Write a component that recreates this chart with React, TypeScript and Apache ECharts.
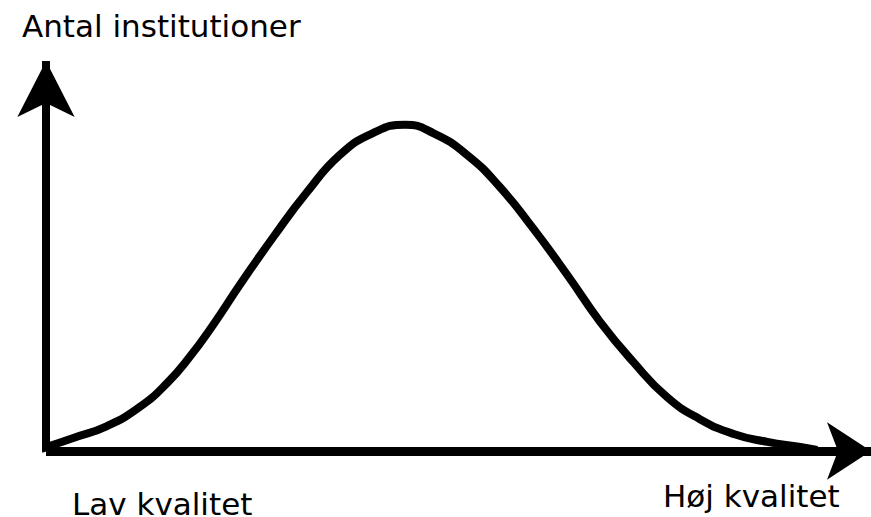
import React, { useEffect, useRef } from "react";
import * as echarts from "echarts";

// Conceptual distribution: quality (low -> high) vs. number of institutions
const qualityX = [-0.6, 3.4, 7.6, 11.7, 15.1, 17.9, 20.8, 24.2, 28.3, 32.5, 36.6, 40.7, 44.7, 48.2, 52.4, 56.5, 60.6, 64.9, 69.0, 73.1, 77.3, 81.4, 85.6, 89.8, 93.9, 96.0];
const institutionCount = [0.6, 3.6, 6.9, 12.2, 18.8, 26.0, 34.8, 46.1, 59.1, 71.5, 81.8, 87.8, 90.1, 87.8, 81.8, 72.9, 61.6, 48.6, 35.6, 24.6, 14.9, 8.8, 4.7, 2.5, 1.1, 0.3];

const yTitle = "Antal institutioner";
const lowLabel = "Lav kvalitet";
const highLabel = "Høj kvalitet";

const FONT = "'DejaVu Sans', Verdana, sans-serif";

export default function App() {
  const ref = useRef<HTMLDivElement>(null);

  useEffect(() => {
    if (!ref.current) return;
    const chart = echarts.init(ref.current, undefined, { renderer: "svg" });
    const data = qualityX.map((x, i) => [x, institutionCount[i]]);
    chart.setOption({
      animation: false,
      backgroundColor: "#ffffff",
      grid: { left: 46, right: 0, top: 61, bottom: 66 },
      xAxis: {
        type: "value",
        min: 0,
        max: 102.7,
        axisLine: {
          show: true,
          symbol: ["none", "arrow"],
          symbolSize: [43, 44],
          lineStyle: { color: "#000", width: 9, cap: "butt" },
        },
        axisTick: { show: false },
        axisLabel: { show: false },
        splitLine: { show: false },
      },
      yAxis: {
        type: "value",
        min: 0,
        max: 107.7,
        axisLine: {
          show: true,
          symbol: ["none", "arrow"],
          symbolSize: [43, 56],
          lineStyle: { color: "#000", width: 8, cap: "butt" },
        },
        axisTick: { show: false },
        axisLabel: { show: false },
        splitLine: { show: false },
      },
      series: [
        {
          type: "line",
          data,
          smooth: 0.5,
          showSymbol: false,
          symbol: "none",
          clip: false,
          z: 1,
          lineStyle: { color: "#000", width: 8 },
        },
      ],
      graphic: [
        {
          type: "text",
          left: 22,
          top: 10,
          style: { text: yTitle, font: `31px ${FONT}`, fill: "#000" },
        },
        {
          type: "text",
          left: 72,
          top: 488,
          style: { text: lowLabel, font: `31px ${FONT}`, fill: "#000" },
        },
        {
          type: "text",
          left: 663,
          top: 480,
          style: { text: highLabel, font: `31px ${FONT}`, fill: "#000" },
        },
      ],
    });
    return () => chart.dispose();
  }, []);

  return (
    <div
      ref={ref}
      style={{ position: "fixed", left: 0, top: 0, width: 871, height: 517 }}
    />
  );
}
